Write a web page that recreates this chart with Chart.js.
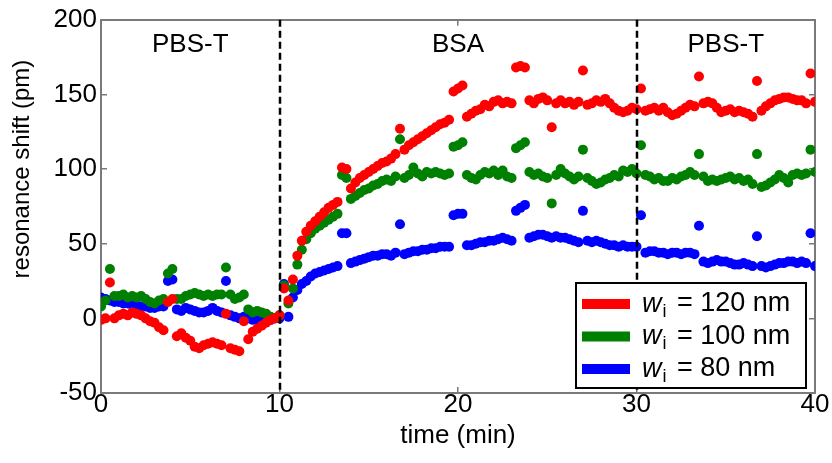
<!DOCTYPE html>
<html>
<head>
<meta charset="utf-8">
<script src="https://cdn.jsdelivr.net/npm/chart.js@4.4.1/dist/chart.umd.min.js"></script>
<style>
  html, body { margin: 0; padding: 0; background: #fff; }
  #wrap { width: 832px; height: 463px; }
</style>
</head>
<body>
<div id="wrap"><canvas id="c" width="832" height="463"></canvas></div>
<script>
// Sampling interval of the resonance readout (minutes)
const STEP_MIN = 0.25;

// Resonance shift (pm), one reading per STEP_MIN, starting at t = 0
const shift120 = [
  -1, 0, 24, 0, 2, 3, 2, 4, 3, 2,
  0, -2, -3, -6, -8, 11, 13, -12, -10, -13,
  -15, -19, -20, -18, -17, -16, -17, -18, 3, -20,
  -21, -22, -2, -14, -9, -7, -5, -3, -1, 0,
  2, 20, 12, 26, 42, 52, 58, 62, 65, 68,
  71, 74, 76, 78, 101, 100, 87, 91, 94, 96,
  98, 100, 102, 104, 105, 107, 110, 127, 113, 116,
  118, 120, 122, 124, 126, 128, 130, 131, 133, 152,
  154, 156, 135, 137, 139, 140, 143, 142, 145, 146,
  144, 145, 144, 168, 169, 168, 146, 144, 147, 148,
  146, 128, 144, 146, 144, 145, 143, 145, 166, 143,
  144, 146, 145, 147, 144, 141, 139, 138, 139, 141,
  140, 154, 139, 140, 141, 139, 141, 138, 136, 137,
  139, 141, 143, 142, 162, 144, 145, 144, 141, 138,
  139, 140, 138, 139, 138, 137, 135, 159, 139, 142,
  144, 146, 147, 148, 148, 147, 146, 146, 144, 164,
  145
];

const shift100 = [
  8, 12, 33, 15, 15, 16, 14, 15, 14, 15,
  13, 11, 10, 12, 13, 30, 33, 13, 13, 15,
  16, 17, 16, 15, 16, 15, 16, 16, 34, 16,
  13, 14, 16, 6, 4, 5, 4, 3, 1, 0,
  2, 22, 10, 20, 36, 46, 53, 57, 60, 62,
  64, 66, 68, 70, 96, 94, 80, 82, 84, 86,
  87, 89, 90, 92, 93, 92, 95, 120, 94, 96,
  101, 97, 95, 98, 97, 98, 97, 96, 97, 115,
  116, 118, 96, 94, 93, 96, 98, 97, 99, 96,
  99, 95, 94, 114, 116, 118, 98, 96, 97, 95,
  94, 77, 96, 100, 97, 95, 93, 95, 113, 94,
  92, 90, 91, 93, 94, 96, 95, 99, 98, 100,
  97, 116, 96, 95, 93, 94, 92, 92, 94, 93,
  95, 96, 98, 96, 110, 95, 92, 93, 92, 93,
  94, 95, 93, 94, 92, 93, 90, 110, 88, 89,
  91, 93, 96, 94, 91, 96, 97, 96, 97, 113,
  98
];

const shift80 = [
  14, 13, 12, 11, 11, 10, 10, 9, 9, 8,
  8, 7, 7, 8, 8, 25, 26, 6, 5, 7,
  6, 5, 4, 4, 5, 7, 5, 4, 25, 2,
  1, 0, 1, 0, -1, -1, 0, 0, -1, 0,
  0, 23, 1, 14, 19, 23, 25, 28, 30, 31,
  32, 33, 34, 35, 57, 57, 37, 38, 39, 40,
  41, 42, 42, 43, 43, 42, 44, 63, 43, 44,
  45, 45, 46, 46, 47, 47, 48, 48, 48, 69,
  70, 70, 49, 49, 50, 51, 51, 52, 52, 53,
  54, 53, 52, 72, 74, 76, 54, 55, 56, 56,
  55, 54, 55, 54, 54, 53, 52, 51, 72, 52,
  51, 52, 51, 50, 49, 49, 48, 49, 48, 48,
  48, 69, 44, 45, 45, 44, 44, 43, 44, 44,
  43, 44, 44, 43, 62, 38, 37, 38, 39, 38,
  38, 37, 36, 36, 37, 36, 35, 55, 35, 34,
  35, 36, 37, 37, 38, 38, 37, 38, 37, 57,
  35
];

const widthLabels = ['120 nm', '100 nm', '80 nm'];
const seriesColors = ['#ff0000', '#008000', '#0000ff'];

const xTicks = [0, 10, 20, 30, 40];
const yTicks = [-50, 0, 50, 100, 150, 200];

const xTitle = 'time (min)';
const yTitle = 'resonance shift (pm)';
const yTitleCenter = 100;

// Buffer exchanges and the phase names between them
const switchTimes = [10, 30];
const phaseNames = ['PBS-T', 'BSA', 'PBS-T'];
const phaseCenters = [5, 20, 35];
const phaseLabelLevel = 178.5;

const FONT = '"Liberation Sans", Arial, sans-serif';
const FRAME_COLOR = '#7a7a7a';

function toPoints(values) {
  return values.map((v, i) => ({ x: i * STEP_MIN, y: v }));
}

// Buffer-change lines, phase names, y title and legend
const decorations = {
  id: 'decorations',
  afterDatasetsDraw(chart) {
    const ctx = chart.ctx;
    const x = chart.scales.x, y = chart.scales.y;
    const R = x.getPixelForValue(40);
    const T = y.getPixelForValue(200), B = y.getPixelForValue(-50);
    ctx.save();

    // buffer-change lines
    ctx.strokeStyle = '#000';
    ctx.lineWidth = 2.5;
    ctx.setLineDash([7, 4]);
    switchTimes.forEach(t => {
      const px = Math.round(x.getPixelForValue(t));
      ctx.beginPath();
      ctx.moveTo(px, T);
      ctx.lineTo(px, B);
      ctx.stroke();
    });
    ctx.setLineDash([]);

    // phase names
    ctx.fillStyle = '#000';
    ctx.font = '26px ' + FONT;
    ctx.textAlign = 'center';
    ctx.textBaseline = 'alphabetic';
    phaseNames.forEach((name, i) => {
      ctx.fillText(name, x.getPixelForValue(phaseCenters[i]), y.getPixelForValue(phaseLabelLevel));
    });

    // y axis title
    ctx.save();
    ctx.translate(22, y.getPixelForValue(yTitleCenter));
    ctx.rotate(-Math.PI / 2);
    ctx.font = '24px ' + FONT;
    ctx.textAlign = 'center';
    ctx.textBaseline = 'middle';
    ctx.fillText(yTitle, 0, 0);
    ctx.restore();

    // legend
    const w = 230, h = 105;
    const x0 = R - 9 - w, y0 = B - 5 - h;
    ctx.fillStyle = '#fff';
    ctx.fillRect(x0, y0, w, h);
    ctx.strokeStyle = '#000';
    ctx.lineWidth = 2;
    ctx.strokeRect(x0, y0, w, h);
    ctx.textAlign = 'left';
    ctx.textBaseline = 'middle';
    widthLabels.forEach((lab, i) => {
      const cy = y0 + 21 + i * 32.5;
      ctx.fillStyle = seriesColors[i];
      ctx.fillRect(x0 + 6, cy - 5, 48, 10);
      ctx.fillStyle = '#000';
      let tx = x0 + 66;
      ctx.font = 'italic 27px ' + FONT;
      ctx.fillText('w', tx, cy);
      tx += ctx.measureText('w').width;
      ctx.font = '18px ' + FONT;
      ctx.fillText('i', tx + 1, cy + 8);
      tx += ctx.measureText('i').width + 4;
      ctx.font = '27px ' + FONT;
      ctx.fillText(' = ' + lab, tx, cy);
    });

    ctx.restore();
  }
};

const datasets = [shift120, shift100, shift80].map((vals, i) => ({
  label: widthLabels[i],
  data: toPoints(vals),
  backgroundColor: seriesColors[i],
  borderWidth: 0,
  pointRadius: 5,
  pointHoverRadius: 5,
  showLine: false,
  xAxisID: 'x',
  yAxisID: 'y'
}));

// Frame axes on all four sides, with short ticks pointing into the plot
const frameGrid = { drawOnChartArea: false, drawTicks: true, tickLength: -6, color: FRAME_COLOR, lineWidth: 1.5 };
const frameBorder = { display: true, color: FRAME_COLOR, width: 2 };

new Chart(document.getElementById('c'), {
  type: 'scatter',
  data: { datasets },
  options: {
    responsive: false,
    animation: false,
    devicePixelRatio: 1,
    layout: { padding: { top: 0, right: 0, left: 0, bottom: 0 } },
    plugins: { legend: { display: false }, tooltip: { enabled: false } },
    scales: {
      x: {
        type: 'linear', position: 'bottom',
        min: 0, max: 40,
        afterBuildTicks: s => { s.ticks = xTicks.map(v => ({ value: v })); },
        afterFit: s => { s.height = 70; },
        grid: frameGrid,
        border: frameBorder,
        ticks: { color: '#000', font: { family: FONT, size: 26 }, padding: 2, maxRotation: 0 },
        title: { display: true, text: xTitle, color: '#000', font: { family: FONT, size: 26 }, padding: { top: 0, bottom: 12 } }
      },
      xTop: {
        type: 'linear', position: 'top',
        min: 0, max: 40,
        afterBuildTicks: s => { s.ticks = xTicks.map(v => ({ value: v })); },
        afterFit: s => { s.height = 19; },
        grid: frameGrid,
        border: frameBorder,
        ticks: { display: false }
      },
      y: {
        position: 'left',
        min: -50, max: 200,
        afterBuildTicks: s => { s.ticks = yTicks.map(v => ({ value: v })); },
        afterFit: s => { s.width = 101; },
        grid: frameGrid,
        border: frameBorder,
        ticks: { color: '#000', font: { family: FONT, size: 26, lineHeight: 0.75 }, padding: 10 },
        title: { display: false }
      },
      yRight: {
        position: 'right',
        min: -50, max: 200,
        afterBuildTicks: s => { s.ticks = yTicks.map(v => ({ value: v })); },
        afterFit: s => { s.width = 17; },
        grid: frameGrid,
        border: frameBorder,
        ticks: { display: false }
      }
    }
  },
  plugins: [decorations]
});
</script>
</body>
</html>
